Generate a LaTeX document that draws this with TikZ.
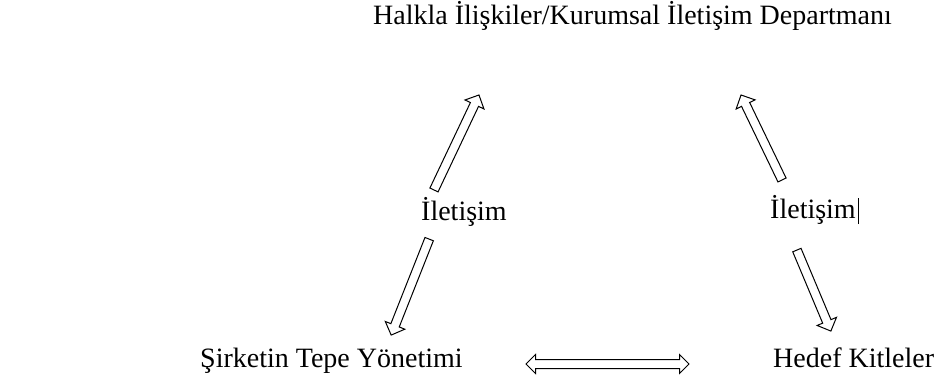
\documentclass[tikz,border=0pt]{standalone}
\usepackage{fontspec}
\setmainfont{Liberation Serif}
\usetikzlibrary{shapes.arrows,calc,positioning}

\tikzset{
  lbl/.style={font=\fontsize{28}{34}\selectfont,inner sep=0pt,anchor=base west},
  hollowarrow/.style={single arrow,draw=black,line width=1pt,fill=white,
    inner sep=4pt,minimum width=0pt,single arrow head extend=6pt,
    single arrow tip angle=90,sloped,allow upside down},
  hollowdouble/.style={double arrow,draw=black,line width=1pt,fill=white,
    inner sep=4pt,minimum width=0pt,double arrow head extend=5pt,
    double arrow tip angle=90}
}

% block arrow from tail to tip
\newcommand{\blockarrow}[2]{%
  \path let \p1=($(#2)-(#1)$), \n1={veclen(\x1,\y1)} in
    (#1) -- node[hollowarrow,minimum height=\n1] {} (#2);}

\begin{document}
\begin{tikzpicture}[x=1pt,y=-1pt]
        \useasboundingbox (0,0) rectangle (941,383);

        % Labels
        \node[lbl] (dept) at (373,24)
          {Halkla İlişkiler/Kurumsal İletişim Departmanı};
        \node[lbl] (comleft) at (421,220) {İletişim};
        \node[lbl] (comright) at (770,218) {İletişim};
        \node[lbl] (mgmt) at (200,367) {Şirketin Tepe Yönetimi};
        \node[lbl] (audience) at (773,367) {Hedef Kitleler};

        % text cursor
        \draw[line width=0.8pt] ([xshift=2pt,yshift=-6pt]comright.base east)
          -- ([xshift=2pt,yshift=20pt]comright.base east);

        % Arrow ends
        \coordinate (lupTail) at (433,192);
        \coordinate (lupTip) at (478,97);
        \coordinate (rupTail) at (783,182);
        \coordinate (rupTip) at (742,97);
        \coordinate (ldnTail) at (430,237);
        \coordinate (ldnTip) at (392,333);
        \coordinate (rdnTail) at (796,248);
        \coordinate (rdnTip) at (830,329);

        % Arrows
        \blockarrow{lupTail}{lupTip}
        \blockarrow{rupTail}{rupTip}
        \blockarrow{ldnTail}{ldnTip}
        \blockarrow{rdnTail}{rdnTip}

        % Two-way arrow
        \node[hollowdouble,minimum height=163pt] (both) at (607.5,364) {};
      \end{tikzpicture}
\end{document}
